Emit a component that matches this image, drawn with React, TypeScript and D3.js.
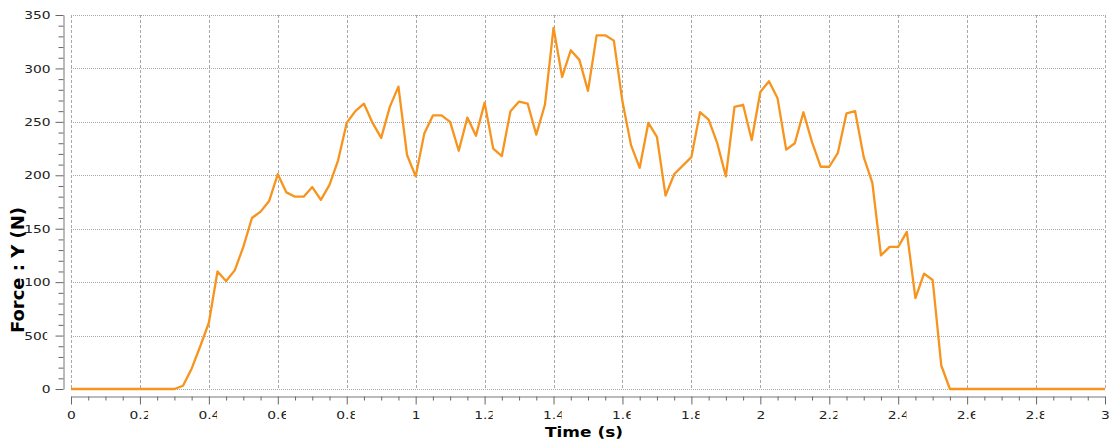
import React, { useEffect, useRef } from "react";
import * as d3 from "d3";

// Sample times (s)
const TIME: number[] = [
  0, 0.025, 0.05, 0.075, 0.1, 0.125, 0.15, 0.175, 0.2, 0.225, 0.25, 0.275, 0.3,
  0.325, 0.35, 0.375, 0.4, 0.425, 0.45, 0.475, 0.5, 0.525, 0.55, 0.575, 0.6,
  0.625, 0.65, 0.675, 0.7, 0.725, 0.75, 0.775, 0.8, 0.825, 0.85, 0.875, 0.9,
  0.925, 0.95, 0.975, 1.0, 1.025, 1.05, 1.075, 1.1, 1.125, 1.15, 1.175, 1.2,
  1.225, 1.25, 1.275, 1.3, 1.325, 1.35, 1.375, 1.4, 1.425, 1.45, 1.475, 1.5,
  1.525, 1.55, 1.575, 1.6, 1.625, 1.65, 1.675, 1.7, 1.725, 1.75, 1.775, 1.8,
  1.825, 1.85, 1.875, 1.9, 1.925, 1.95, 1.975, 2.0, 2.025, 2.05, 2.075, 2.1,
  2.125, 2.15, 2.175, 2.2, 2.225, 2.25, 2.275, 2.3, 2.325, 2.35, 2.375, 2.4,
  2.425, 2.45, 2.475, 2.5, 2.525, 2.55, 2.575, 2.6, 2.625, 2.65, 2.675, 2.7,
  2.725, 2.75, 2.775, 2.8, 2.825, 2.85, 2.875, 2.9, 2.925, 2.95, 2.975, 3.0,
];

// Force : Y (N)
const FORCE: number[] = [
  0, 0, 0, 0, 0, 0, 0, 0, 0, 0, 0, 0, 0,
  3, 19, 40, 62, 110, 101, 111, 133, 160, 166, 176, 201,
  184, 180, 180, 189, 177, 191, 214, 249, 260, 267, 249, 235,
  264, 283, 219, 199, 239, 256, 256, 250, 223, 254, 237, 268,
  225, 218, 260, 269, 267, 238, 266, 338, 292, 317, 308, 279,
  331, 331, 326, 269, 228, 207, 249, 236, 181, 201, 209, 217,
  259, 252, 230, 199, 264, 266, 233, 278, 288, 272, 224, 230,
  259, 231, 208, 208, 221, 258, 260, 217, 193, 125, 133, 133,
  147, 85, 108, 102, 22, 0, 0, 0, 0, 0, 0, 0,
  0, 0, 0, 0, 0, 0, 0, 0, 0, 0, 0, 0,
];

const X_TICKS = [0, 0.2, 0.4, 0.6, 0.8, 1, 1.2, 1.4, 1.6, 1.8, 2, 2.2, 2.4, 2.6, 2.8, 3];
const X_TICK_LABELS = ["0", "0.2", "0.4", "0.6", "0.8", "1", "1.2", "1.4", "1.6", "1.8", "2", "2.2", "2.4", "2.6", "2.8", "3"];
const X_MINOR = [
  0.05, 0.1, 0.15, 0.25, 0.3, 0.35, 0.45, 0.5, 0.55, 0.65, 0.7, 0.75, 0.85, 0.9, 0.95,
  1.05, 1.1, 1.15, 1.25, 1.3, 1.35, 1.45, 1.5, 1.55, 1.65, 1.7, 1.75, 1.85, 1.9, 1.95,
  2.05, 2.1, 2.15, 2.25, 2.3, 2.35, 2.45, 2.5, 2.55, 2.65, 2.7, 2.75, 2.85, 2.9, 2.95,
];
const Y_TICKS = [0, 50, 100, 150, 200, 250, 300, 350];
const Y_TICK_LABELS = ["0", "500", "100", "150", "200", "250", "300", "350"];
const Y_MINOR = [
  10, 20, 30, 40, 60, 70, 80, 90, 110, 120, 130, 140, 160, 170, 180, 190,
  210, 220, 230, 240, 260, 270, 280, 290, 310, 320, 330, 340,
];
// labels whose last glyph is drawn cut off in the source image
const CUT_LABELS = ["0.2", "0.4", "0.6", "0.8", "1.2", "1.4", "1.6", "1.8", "2.2", "2.4", "2.6", "2.8", "500"];

const X_TITLE = "Time (s)";
const Y_TITLE = "Force : Y (N)";

export default function App() {
  const ref = useRef<SVGSVGElement | null>(null);

  useEffect(() => {
    document.body.style.margin = "0";
    const svg = d3.select(ref.current as SVGSVGElement);
    svg.selectAll("*").remove();

    const x = d3.scaleLinear().domain([0, 3]).range([71, 1105]);
    const y = d3.scaleLinear().domain([0, 350]).range([389, 15]);
    const SX = 1.38;
    const FS = 10;
    const tickFont = "'DejaVu Sans', Verdana, sans-serif";
    const defs = svg.append("defs");

    // grid
    const grid = svg.append("g");
    grid
      .selectAll("line.v")
      .data(X_TICKS)
      .join("line")
      .attr("class", "v")
      .attr("x1", (d) => Math.round(x(d)) + 0.5)
      .attr("x2", (d) => Math.round(x(d)) + 0.5)
      .attr("y1", y(350))
      .attr("y2", y(0))
      .attr("stroke", "#a8a8a8")
      .attr("stroke-dasharray", "3,2");
    grid
      .selectAll("line.h")
      .data(Y_TICKS)
      .join("line")
      .attr("class", "h")
      .attr("x1", x(0))
      .attr("x2", x(3))
      .attr("y1", (d) => Math.round(y(d)) + 0.5)
      .attr("y2", (d) => Math.round(y(d)) + 0.5)
      .attr("stroke", "#a8a8a8")
      .attr("stroke-dasharray", "1,1");

    // line
    const line = d3
      .line<number>()
      .x((_, i) => x(TIME[i]))
      .y((d) => y(d));
    svg
      .append("path")
      .datum(FORCE)
      .attr("d", line)
      .attr("fill", "none")
      .attr("stroke", "#F7941D")
      .attr("stroke-width", 2.3)
      .attr("stroke-linejoin", "round");

    // x axis
    const xAxisY = 396.5;
    const xMinor = svg.append("g").attr("transform", `translate(0,${xAxisY})`);
    xMinor
      .call(d3.axisBottom(x).tickValues(X_MINOR).tickSize(4).tickSizeOuter(0).tickFormat(() => ""))
      .call((g) => g.select(".domain").remove());
    const xAxis = svg.append("g").attr("transform", `translate(0,${xAxisY})`);
    xAxis.call(
      d3
        .axisBottom(x)
        .tickValues(X_TICKS)
        .tickSize(8)
        .tickSizeOuter(0)
        .tickFormat((_, i) => X_TICK_LABELS[i])
    );
    [xAxis, xMinor].forEach((g) => {
      g.selectAll("line").attr("stroke", "#666");
      g.select(".domain").attr("stroke", "#777");
    });
    xAxis
      .selectAll("text")
      .attr("y", 23)
      .attr("dy", 0)
      .attr("x", 0)
      .attr("fill", "#222")
      .attr("font-family", tickFont)
      .attr("font-size", FS)
      .attr("transform", `scale(${SX},1)`);

    // y axis
    const yAxisX = 63.5;
    const yMinor = svg.append("g").attr("transform", `translate(${yAxisX},0)`);
    yMinor
      .call(d3.axisLeft(y).tickValues(Y_MINOR).tickSize(5).tickSizeOuter(0).tickFormat(() => ""))
      .call((g) => g.select(".domain").remove());
    const yAxis = svg.append("g").attr("transform", `translate(${yAxisX},0)`);
    yAxis.call(
      d3
        .axisLeft(y)
        .tickValues(Y_TICKS)
        .tickSize(8)
        .tickSizeOuter(0)
        .tickFormat((_, i) => Y_TICK_LABELS[i])
    );
    [yAxis, yMinor].forEach((g) => {
      g.selectAll("line").attr("stroke", "#666");
      g.select(".domain").attr("stroke", "#777");
    });
    yAxis
      .selectAll("text")
      .attr("x", -13 / SX)
      .attr("dy", "0.36em")
      .attr("fill", "#222")
      .attr("font-family", tickFont)
      .attr("font-size", FS)
      .attr("transform", `scale(${SX},1)`);

    // clip the last glyph of the labels that appear cut in the source
    let cid = 0;
    svg.selectAll<SVGTextElement, unknown>(".tick text").each(function () {
      const t = this.textContent || "";
      if (!CUT_LABELS.includes(t)) return;
      const bb = this.getBBox();
      const id = `cut${cid++}`;
      defs
        .append("clipPath")
        .attr("id", id)
        .append("rect")
        .attr("x", bb.x - 2)
        .attr("y", bb.y - 3)
        .attr("width", bb.width + 2 - 2.4)
        .attr("height", bb.height + 6);
      d3.select(this).attr("clip-path", `url(#${id})`);
    });

    // titles
    svg
      .append("text")
      .attr("x", 584)
      .attr("y", 436.5)
      .attr("text-anchor", "middle")
      .attr("font-family", "'DejaVu Sans', Verdana, sans-serif")
      .attr("font-weight", "bold")
      .attr("font-size", 14)
      .attr("textLength", 78)
      .attr("lengthAdjust", "spacingAndGlyphs")
      .attr("fill", "#000")
      .text(X_TITLE);
    svg
      .append("text")
      .attr("transform", "translate(24,270) rotate(-90)")
      .attr("text-anchor", "middle")
      .attr("font-family", "'DejaVu Sans Condensed', 'DejaVu Sans', sans-serif")
      .attr("font-stretch", "condensed")
      .attr("font-weight", "bold")
      .attr("font-size", 17.5)
      .attr("textLength", 126)
      .attr("lengthAdjust", "spacingAndGlyphs")
      .attr("fill", "#000")
      .text(Y_TITLE);
  }, []);

  return (
    <svg
      ref={ref}
      width={1119}
      height={445}
      style={{ position: "absolute", left: 0, top: 0, background: "#fff", display: "block" }}
    />
  );
}
